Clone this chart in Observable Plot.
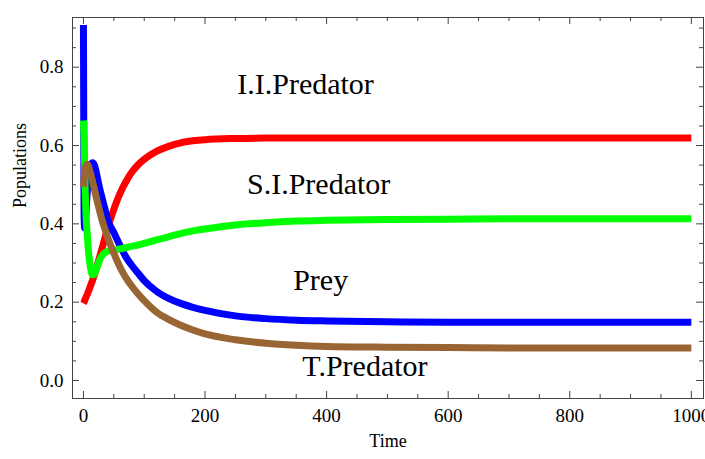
<!DOCTYPE html>
<html>
<head>
<meta charset="utf-8">
<script src="https://cdn.jsdelivr.net/npm/d3@7"></script>
<script src="https://cdn.jsdelivr.net/npm/@observablehq/plot@0.6"></script>
<style>
  body { margin: 0; background: #fff; }
</style>
</head>
<body>
<div id="chart"></div>
<script>
// Simulated population trajectories of the prey / predator system.
const time = [0, 1, 2, 3, 4, 6, 8, 10, 12, 15, 18, 22, 26, 30, 35, 40, 50, 60, 70, 80, 90, 100,
  120, 140, 160, 180, 200, 250, 300, 350, 400, 500, 600, 700, 800, 900, 1000];

const prey = [0.908, 0.42, 0.39, 0.405, 0.425, 0.475, 0.515, 0.538, 0.55, 0.556, 0.55, 0.525, 0.495,
  0.47, 0.44, 0.41, 0.378, 0.345, 0.315, 0.293, 0.274, 0.255, 0.228, 0.21, 0.197, 0.187, 0.179,
  0.165, 0.158, 0.154, 0.152, 0.150, 0.149, 0.149, 0.149, 0.149, 0.149];

const iiPredator = [0.197, 0.2, 0.204, 0.208, 0.212, 0.219, 0.227, 0.235, 0.243, 0.256, 0.27, 0.29,
  0.312, 0.334, 0.362, 0.39, 0.437, 0.477, 0.508, 0.533, 0.551, 0.565, 0.585, 0.598, 0.607, 0.612,
  0.615, 0.618, 0.619, 0.619, 0.619, 0.619, 0.619, 0.619, 0.619, 0.619, 0.619];

const siPredator = [0.664, 0.62, 0.55, 0.48, 0.43, 0.38, 0.335, 0.305, 0.285, 0.27, 0.272, 0.288,
  0.305, 0.318, 0.326, 0.33, 0.333, 0.336, 0.339, 0.343, 0.346, 0.35, 0.359, 0.367, 0.375, 0.382,
  0.387, 0.397, 0.403, 0.407, 0.409, 0.411, 0.412, 0.413, 0.413, 0.413, 0.413];

const tPredator = [0.495, 0.515, 0.53, 0.54, 0.547, 0.552, 0.548, 0.538, 0.527, 0.508, 0.488, 0.462,
  0.437, 0.413, 0.388, 0.365, 0.325, 0.29, 0.262, 0.24, 0.221, 0.204, 0.175, 0.156, 0.141, 0.129,
  0.119, 0.104, 0.095, 0.09, 0.087, 0.085, 0.084, 0.083, 0.083, 0.083, 0.083];

const seriesNames = ["I.I.Predator", "Prey", "S.I.Predator", "T.Predator"];
const seriesValues = [iiPredator, prey, siPredator, tPredator];
const seriesColors = ["#ff0000", "#0000ff", "#00ff00", "#996633"];

const xTicks = [0, 200, 400, 600, 800, 1000];
const xMinorTicks = [50, 100, 150, 250, 300, 350, 450, 500, 550, 650, 700, 750, 850, 900, 950];
const yTicks = [0, 0.2, 0.4, 0.6, 0.8];
const yMinorTicks = [0.05, 0.1, 0.15, 0.25, 0.3, 0.35, 0.45, 0.5, 0.55, 0.65, 0.7, 0.75, 0.85, 0.9];

// In-plot labels: text, then anchor point (time, population).
const labelNames = ["I.I.Predator", "S.I.Predator", "Prey", "T.Predator"];
const labelSpots = [[253, 0.756], [269, 0.500], [345, 0.255], [360, 0.036]];

// Layout
const W = 705, H = 459;
const M = {top: 17, right: 2, bottom: 61, left: 72};
const innerW = W - M.left - M.right;
const innerH = H - M.top - M.bottom;
const frameColor = "#444";
const font = "'Liberation Serif', 'Times New Roman', serif";

const rows = seriesNames.flatMap((name, i) =>
  time.map((t, j) => ({time: t, value: seriesValues[i][j], series: name})));

const labels = labelNames.map((name, i) => ({name, time: labelSpots[i][0], value: labelSpots[i][1]}));

const major = 7, minor = 4;

const chart = Plot.plot({
  width: W,
  height: H,
  marginTop: M.top,
  marginRight: M.right,
  marginBottom: M.bottom,
  marginLeft: M.left,
  style: {fontFamily: font, fontSize: "18px", background: "#fff", color: "#000"},
  x: {domain: [-18, 1020]},
  y: {domain: [-0.046, 0.927]},
  marks: [
    // trajectories
    ...seriesNames.map((name, i) => Plot.line(rows.filter(d => d.series === name), {
      x: "time", y: "value", stroke: seriesColors[i], strokeWidth: 7,
      strokeLinecap: "butt", strokeLinejoin: "round", curve: "monotone-x"
    })),
    // inward ticks on all four sides
    Plot.tickX(xTicks, {x: d => d, insetTop: innerH - major, stroke: frameColor}),
    Plot.tickX(xTicks, {x: d => d, insetBottom: innerH - major, stroke: frameColor}),
    Plot.tickX(xMinorTicks, {x: d => d, insetTop: innerH - minor, stroke: frameColor}),
    Plot.tickX(xMinorTicks, {x: d => d, insetBottom: innerH - minor, stroke: frameColor}),
    Plot.tickY(yTicks, {y: d => d, insetRight: innerW - major, stroke: frameColor}),
    Plot.tickY(yTicks, {y: d => d, insetLeft: innerW - major, stroke: frameColor}),
    Plot.tickY(yMinorTicks, {y: d => d, insetRight: innerW - minor, stroke: frameColor}),
    Plot.tickY(yMinorTicks, {y: d => d, insetLeft: innerW - minor, stroke: frameColor}),
    Plot.frame({stroke: frameColor, strokeWidth: 1}),
    // tick labels
    Plot.axisX(xTicks, {anchor: "bottom", tickSize: 0, tickPadding: 10, tickFormat: d => String(d),
      label: null, fontFamily: font, fontSize: 19}),
    Plot.axisY(yTicks, {anchor: "left", tickSize: 0, tickPadding: 9, tickFormat: d3.format(".1f"),
      label: null, fontFamily: font, fontSize: 19}),
    // axis titles
    Plot.text(["Time"], {frameAnchor: "bottom", dy: 43, lineAnchor: "middle", fontSize: 18, fontFamily: font}),
    Plot.text(["Populations"], {frameAnchor: "left", dx: -52, rotate: -90, lineAnchor: "middle",
      fontSize: 18, fontFamily: font}),
    // series labels
    Plot.text(labels, {x: "time", y: "value", text: "name", textAnchor: "start",
      lineAnchor: "middle", fontSize: 30, fontFamily: font, fill: "#000"})
  ]
});

document.getElementById("chart").append(chart);
</script>
</body>
</html>
